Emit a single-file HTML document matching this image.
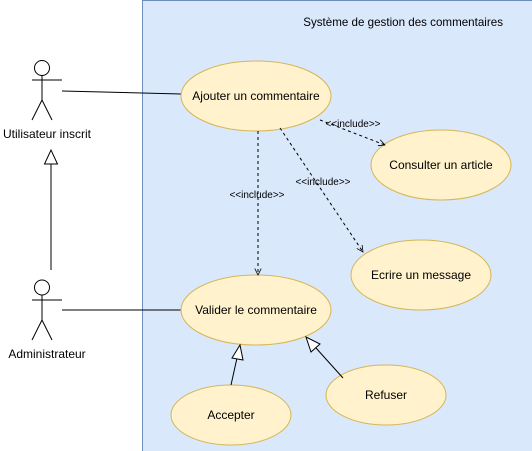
<!DOCTYPE html>
<html><head><meta charset="utf-8"><style>
html,body{margin:0;padding:0;background:#fff;}
svg{display:block;font-family:"Liberation Sans",Arial,sans-serif;}
</style></head><body>
<svg width="532" height="451" viewBox="0 0 532 451" xmlns="http://www.w3.org/2000/svg">
<defs>
<marker id="open" viewBox="0 0 10 10" refX="9" refY="5" markerWidth="8" markerHeight="8" orient="auto" markerUnits="userSpaceOnUse">
<path d="M1,1 L9,5 L1,9" fill="none" stroke="#000" stroke-width="1"/>
</marker>
</defs>
<rect x="142.5" y="0.5" width="390" height="451" fill="#dae8fc" stroke="#6c8ebf"/>
<text x="503" y="26" font-size="11.6" text-anchor="end">Système de gestion des commentaires</text>

<g fill="none" stroke="#000" stroke-width="1">
<circle cx="42" cy="68" r="7.5" fill="#fff"/>
<line x1="42" y1="75.5" x2="42" y2="100"/>
<line x1="32" y1="80" x2="62" y2="80"/>
<path d="M32,120 L42,100 L52,120"/>
<circle cx="42" cy="287.5" r="7.5" fill="#fff"/>
<line x1="42" y1="295" x2="42" y2="320"/>
<line x1="32" y1="300" x2="62" y2="300"/>
<path d="M32,340 L42,320 L52,340"/>
<line x1="51" y1="270" x2="51" y2="164"/>
<path d="M44.5,164 L57.5,164 L51,150 Z" fill="#fff"/>
<line x1="62" y1="91" x2="181" y2="94"/>
<line x1="62" y1="310" x2="181" y2="310"/>
</g>
<text x="47" y="138" font-size="12" text-anchor="middle">Utilisateur inscrit</text>
<text x="47" y="358" font-size="12" text-anchor="middle">Administrateur</text>

<g fill="#fff2cc" stroke="#d6b656" stroke-width="1">
<ellipse cx="256" cy="96" rx="75" ry="35"/>
<ellipse cx="441" cy="165" rx="70" ry="35"/>
<ellipse cx="421" cy="275" rx="70" ry="35"/>
<ellipse cx="256" cy="310" rx="75" ry="35"/>
<ellipse cx="231" cy="415" rx="60" ry="30"/>
<ellipse cx="386" cy="395" rx="60" ry="30"/>
</g>
<g font-size="12" text-anchor="middle">
<text x="256" y="100">Ajouter un commentaire</text>
<text x="441" y="169">Consulter un article</text>
<text x="421" y="279">Ecrire un message</text>
<text x="256" y="314">Valider le commentaire</text>
<text x="231" y="419">Accepter</text>
<text x="386" y="399">Refuser</text>
</g>

<g fill="none" stroke="#000" stroke-width="1" stroke-dasharray="3,3">
<line x1="258" y1="131" x2="258" y2="275" marker-end="url(#open)"/>
<line x1="280" y1="128" x2="363" y2="252" marker-end="url(#open)"/>
<line x1="320" y1="120" x2="385" y2="145" marker-end="url(#open)"/>
</g>
<g font-size="10" text-anchor="middle">
<text x="257" y="198">&lt;&lt;include&gt;&gt;</text>
<text x="323" y="185">&lt;&lt;include&gt;&gt;</text>
<text x="353" y="127">&lt;&lt;include&gt;&gt;</text>
</g>

<g fill="none" stroke="#000" stroke-width="1">
<line x1="231" y1="385" x2="237" y2="358"/>
<path d="M232,358 L243,360 L240,345 Z" fill="#fff"/>
<line x1="343" y1="378" x2="316" y2="348"/>
<path d="M311,352 L320,344 L306,337 Z" fill="#fff"/>
</g>
</svg>
</body></html>
